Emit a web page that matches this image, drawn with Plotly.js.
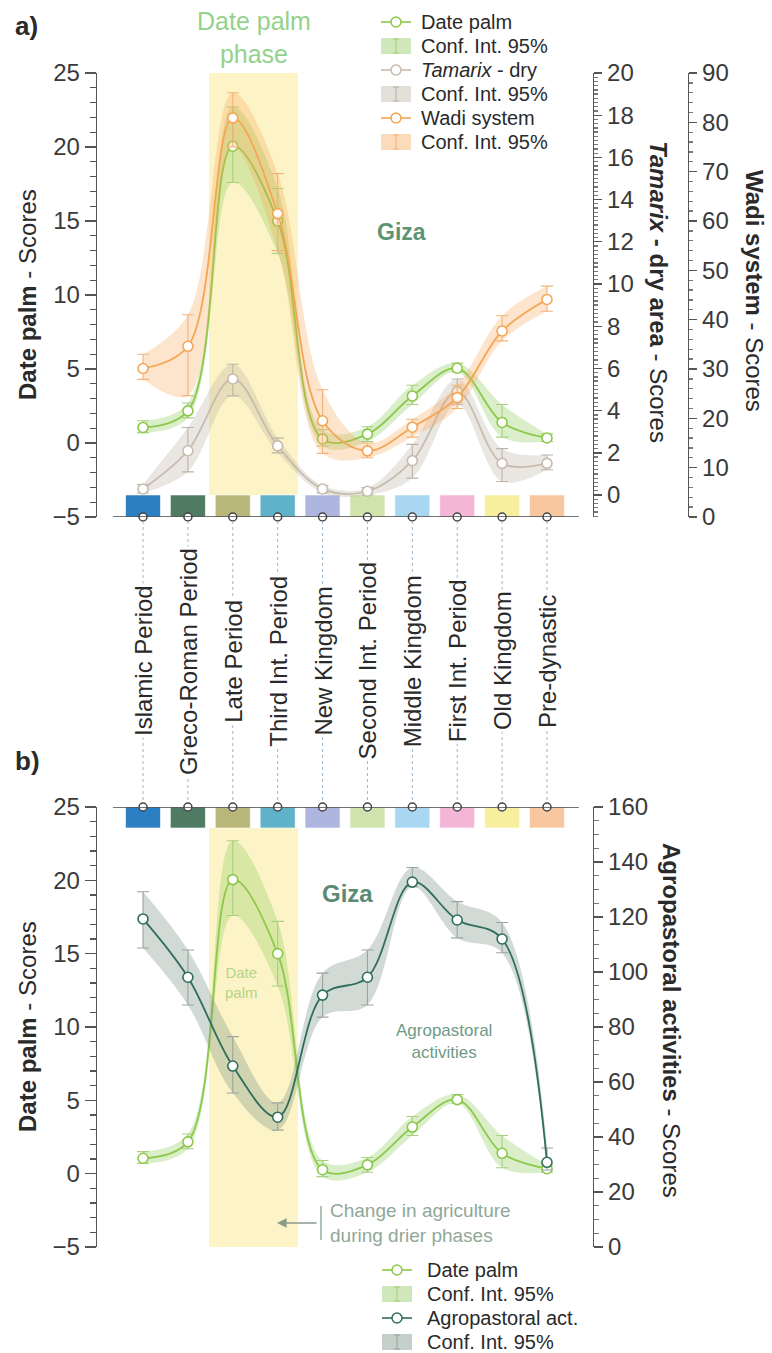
<!DOCTYPE html>
<html><head><meta charset="utf-8">
<script src="https://cdn.plot.ly/plotly-3.0.1.min.js"></script>
<style>html,body{margin:0;padding:0;background:#fff}</style>
</head><body><div id="chart" style="width:772px;height:1353px"></div>
<script>
// ---------- DATA ----------
const periods = ['Islamic Period','Greco-Roman Period','Late Period','Third Int. Period','New Kingdom','Second Int. Period','Middle Kingdom','First Int. Period','Old Kingdom','Pre-dynastic'];
const periodColors = ['#2b7fc2','#4f7b63','#b9b67a','#5fb2c9','#aeb6df','#cfe3ad','#a9d7f2','#f4b6d6','#f8ef9e','#f8c79f'];

const datePalm   = [1.05, 2.17, 20.05, 15.0, 0.27, 0.6, 3.18, 5.05, 1.39, 0.34];
const datePalmHi = [1.5, 2.7, 22.7, 17.2, 0.9, 1.1, 3.9, 5.4, 2.6, 0.6];
const datePalmLo = [0.7, 1.7, 17.6, 12.8, -0.2, 0.1, 2.6, 4.8, 0.4, 0.1];

const tamarix   = [0.29, 2.1, 5.5, 2.33, 0.29, 0.18, 1.63, 4.9, 1.5, 1.5];
const tamarixHi = [0.5, 3.2, 6.2, 2.7, 0.45, 0.35, 2.4, 5.5, 2.2, 1.9];
const tamarixLo = [0.1, 1.1, 4.7, 2.0, 0.1, 0.0, 0.8, 4.3, 0.64, 1.2];

const wadi   = [30.1, 34.6, 80.9, 61.5, 19.5, 13.4, 18.2, 24.2, 37.7, 44.1];
const wadiHi = [33.0, 41.0, 86.0, 69.6, 25.8, 15.0, 19.8, 26.7, 40.8, 46.8];
const wadiLo = [27.9, 24.6, 75.0, 54.0, 12.9, 12.0, 16.2, 22.0, 35.7, 41.7];

const agro   = [119.3, 98.1, 65.8, 47.2, 91.6, 98.1, 132.7, 118.9, 112.0, 30.8];
const agroHi = [129.2, 108.0, 76.5, 52.4, 99.6, 108.0, 138.0, 125.6, 118.0, 36.0];
const agroLo = [108.7, 88.0, 56.0, 42.5, 83.6, 88.0, 131.0, 112.4, 107.0, 28.0];

const legendA = ['Date palm', 'Conf. Int. 95%', '<i>Tamarix</i> - dry', 'Conf. Int. 95%', 'Wadi system', 'Conf. Int. 95%'];
const legendB = ['Date palm', 'Conf. Int. 95%', 'Agropastoral act.', 'Conf. Int. 95%'];

// ---------- HELPERS ----------
const W = 772, H = 1353;
const px = v => v / W;
const py = v => 1 - v / H;
const idx = periods.map((_, i) => i);
const FONT = 'Liberation Sans, Arial, Helvetica, sans-serif';

function series(vals, hi, lo, xa, ya, col, bandCol, errCol) {
  const up = {x: idx, y: hi, xaxis: xa, yaxis: ya, mode: 'lines', line: {shape: 'spline', smoothing: 1, width: 0, color: bandCol},
    hoverinfo: 'skip', showlegend: false};
  const dn = {x: idx, y: lo, xaxis: xa, yaxis: ya, mode: 'lines', fill: 'tonexty', fillcolor: bandCol,
    line: {shape: 'spline', smoothing: 1, width: 0, color: bandCol}, showlegend: false, hoverinfo: 'skip'};
  const ln = {x: idx, y: vals, xaxis: xa, yaxis: ya, mode: 'lines+markers', showlegend: false,
    line: {shape: 'spline', smoothing: 1, width: 1.8, color: col},
    marker: {symbol: 'circle', size: 10, color: '#ffffff', line: {width: 1.6, color: col}},
    error_y: {type: 'data', symmetric: false, array: vals.map((v, i) => hi[i] - v), arrayminus: vals.map((v, i) => v - lo[i]),
      color: errCol, thickness: 1.1, width: 6}};
  return [up, dn, ln];
}

const green = '#8cc84b', greenBand = 'rgba(150,205,100,0.35)', greenErr = '#a6cf80';
const gray = '#c6bbad', grayBand = 'rgba(185,175,160,0.30)', grayErr = '#bdb3a6';
const orange = '#f4a654', orangeBand = 'rgba(247,165,85,0.30)', orangeErr = '#f0b47a';
const agroCol = '#2f6e5a', agroBand = 'rgba(125,150,135,0.35)', agroErr = '#9aa59e';

let traces = [];
traces = traces.concat(series(datePalm, datePalmHi, datePalmLo, 'x', 'y', green, greenBand, greenErr));
traces = traces.concat(series(tamarix, tamarixHi, tamarixLo, 'x', 'y2', gray, grayBand, grayErr));
traces = traces.concat(series(wadi, wadiHi, wadiLo, 'x', 'y3', orange, orangeBand, orangeErr));
traces = traces.concat(series(datePalm, datePalmHi, datePalmLo, 'x2', 'y4', green, greenBand, greenErr));
traces = traces.concat(series(agro, agroHi, agroLo, 'x2', 'y5', agroCol, agroBand, agroErr));

// category markers on the baseline axes
traces.push({x: idx, y: idx.map(() => -5), xaxis: 'x', yaxis: 'y', mode: 'markers', cliponaxis: false, showlegend: false, hoverinfo: 'skip',
  marker: {size: 8, color: '#fff', line: {width: 1.5, color: '#444'}}});
traces.push({x: idx, y: idx.map(() => 25), xaxis: 'x2', yaxis: 'y4', mode: 'markers', cliponaxis: false, showlegend: false, hoverinfo: 'skip',
  marker: {size: 8, color: '#fff', line: {width: 1.5, color: '#444'}}});

// ---------- LAYOUT ----------
const xr = [-1.025, 10.025];
const xdom = [px(97), px(593)];
const tickF = {family: FONT, size: 24, color: '#3a3a3a'};
const axC = '#555';
function yax(extra) {
  return Object.assign({showgrid: false, zeroline: false, showline: true, linecolor: axC, linewidth: 1.3,
    ticks: 'outside', tickcolor: axC, tickwidth: 1.3, tickfont: tickF}, extra);
}

const shapes = [];
const annotations = [];
function note(x, y, text, font, extra) {
  annotations.push(Object.assign({xref: 'paper', yref: 'paper', x: px(x), y: py(y), text: text, showarrow: false,
    xanchor: 'center', yanchor: 'middle', font: font}, extra || {}));
}

// yellow phase rectangles
shapes.push({type: 'rect', xref: 'x', yref: 'y', x0: 1.47, x1: 3.45, y0: -3.51, y1: 25, fillcolor: '#fcf4c6', line: {width: 0}, layer: 'below'});
shapes.push({type: 'rect', xref: 'x2', yref: 'y4', x0: 1.47, x1: 3.45, y0: -5, y1: 23.57, fillcolor: '#fcf4c6', line: {width: 0}, layer: 'below'});

// colored period boxes, dotted guide lines, labels
periods.forEach((p, i) => {
  shapes.push({type: 'rect', xref: 'x', yref: 'y', x0: i - 0.39, x1: i + 0.39, y0: -5, y1: -3.51, fillcolor: periodColors[i], line: {width: 1, color: 'rgba(255,255,255,0.6)'}, layer: 'below'});
  shapes.push({type: 'rect', xref: 'x2', yref: 'y4', x0: i - 0.39, x1: i + 0.39, y0: 23.57, y1: 25, fillcolor: periodColors[i], line: {width: 1, color: 'rgba(255,255,255,0.6)'}, layer: 'below'});
  shapes.push({type: 'line', xref: 'x', yref: 'paper', x0: i, x1: i, y0: py(521), y1: py(803), line: {color: '#9fb6cc', width: 1, dash: 'dot'}});
  annotations.push({xref: 'x', yref: 'paper', x: i, y: py(661), xanchor: 'center', yanchor: 'middle', text: p, textangle: -90, showarrow: false,
    bgcolor: '#ffffff', borderpad: 1, font: {family: FONT, size: 24, color: '#2a2a2a'}});
});

// baseline x-axis lines
shapes.push({type: 'line', xref: 'x', yref: 'y', x0: -0.67, x1: 9.71, y0: -5, y1: -5, line: {color: '#444', width: 1.6}});
shapes.push({type: 'line', xref: 'x2', yref: 'y4', x0: -0.67, x1: 9.71, y0: 25, y1: 25, line: {color: '#444', width: 1.6}});

// axis titles
const tF = s => ({family: FONT, size: s, color: '#2a2a2a'});
note(27, 295, '<b>Date palm</b> - Scores', tF(24), {textangle: -90});
note(659, 292, '<b><i>Tamarix</i> - dry area</b> - Scores', tF(24), {textangle: 90});
note(755, 291, '<b>Wadi system</b> - Scores', tF(24), {textangle: 90});
note(27, 1027, '<b>Date palm</b> - Scores', tF(24), {textangle: -90});
note(672, 1020, '<b>Agropastoral activities</b> - Scores', tF(24), {textangle: 90});

// panel letters and text labels
note(26, 26, '<b>a)</b>', tF(26));
note(28, 761, '<b>b)</b>', tF(26));
note(254, 38, 'Date palm<br>phase', {family: FONT, size: 25, color: '#93d28c'});
note(402, 232, '<b>Giza</b>', {family: FONT, size: 23, color: '#5e9474'});
note(347, 893, '<b>Giza</b>', {family: FONT, size: 24, color: '#5a8a72'});
note(241, 982, 'Date<br>palm', {family: FONT, size: 15, color: '#b3d489'});
note(444, 1041, 'Agropastoral<br>activities', {family: FONT, size: 17, color: '#6f9a86'});
note(328, 1223, 'Change in agriculture<br>during drier phases', {family: FONT, size: 19, color: '#8fa898'}, {xanchor: 'left', align: 'left'});
annotations.push({xref: 'paper', yref: 'paper', x: px(277), y: py(1223), text: '', showarrow: true, ax: 41, ay: 0,
  arrowhead: 2, arrowsize: 1.2, arrowwidth: 1.6, arrowcolor: '#8a9a8c'});
shapes.push({type: 'line', xref: 'paper', yref: 'paper', x0: px(321), x1: px(321), y0: py(1206), y1: py(1240), line: {color: '#8fa898', width: 1.4}});

// manual legends
function legendRows(labels, rows, kinds, x0, textX) {
  labels.forEach((lab, k) => {
    const y = rows[k];
    const kd = kinds[k];
    const xc = x0 + 15;
    if (kd.type === 'line') {
      shapes.push({type: 'line', xref: 'paper', yref: 'paper', x0: px(x0), x1: px(x0 + 30), y0: py(y), y1: py(y), line: {color: kd.col, width: 1.6}});
      shapes.push({type: 'circle', xref: 'paper', yref: 'paper', x0: px(xc - 5), x1: px(xc + 5), y0: py(y + 5), y1: py(y - 5),
        fillcolor: '#ffffff', line: {color: kd.col, width: 1.5}});
    } else {
      shapes.push({type: 'rect', xref: 'paper', yref: 'paper', x0: px(x0), x1: px(x0 + 30), y0: py(y + 8), y1: py(y - 8),
        fillcolor: kd.col, line: {width: 0}});
      shapes.push({type: 'line', xref: 'paper', yref: 'paper', x0: px(xc), x1: px(xc), y0: py(y + 7), y1: py(y - 7), line: {color: kd.err, width: 1.1}});
      shapes.push({type: 'line', xref: 'paper', yref: 'paper', x0: px(xc - 3), x1: px(xc + 3), y0: py(y - 7), y1: py(y - 7), line: {color: kd.err, width: 1.1}});
      shapes.push({type: 'line', xref: 'paper', yref: 'paper', x0: px(xc - 3), x1: px(xc + 3), y0: py(y + 7), y1: py(y + 7), line: {color: kd.err, width: 1.1}});
    }
    note(textX, y, lab, {family: FONT, size: 20, color: '#2a2a2a'}, {xanchor: 'left'});
  });
}
legendRows(legendA, [22, 46, 70, 94, 118, 142],
  [{type: 'line', col: green}, {type: 'band', col: 'rgba(150,205,100,0.45)', err: greenErr},
   {type: 'line', col: gray}, {type: 'band', col: 'rgba(185,175,160,0.40)', err: grayErr},
   {type: 'line', col: orange}, {type: 'band', col: 'rgba(247,165,85,0.40)', err: orangeErr}], 381, 419);
legendRows(legendB, [1270, 1294, 1318, 1342],
  [{type: 'line', col: green}, {type: 'band', col: 'rgba(150,205,100,0.45)', err: greenErr},
   {type: 'line', col: agroCol}, {type: 'band', col: 'rgba(125,150,135,0.45)', err: agroErr}], 382, 425);

const layout = {
  width: W, height: H,
  margin: {l: 0, r: 0, t: 0, b: 0},
  paper_bgcolor: '#ffffff', plot_bgcolor: 'rgba(0,0,0,0)',
  font: {family: FONT},
  showlegend: false,
  xaxis: {domain: xdom, range: xr, anchor: 'y', visible: false, fixedrange: true},
  xaxis2: {domain: xdom, range: xr, anchor: 'y4', visible: false, fixedrange: true},
  yaxis: yax({domain: [py(517), py(73)], range: [-5, 25], dtick: 5, tick0: 0, ticklen: 11, anchor: 'x',
    minor: {dtick: 1, ticklen: 6, tickcolor: axC, ticks: 'outside', showgrid: false}}),
  yaxis2: yax({overlaying: 'y', side: 'right', anchor: 'x', range: [-1.04, 20], dtick: 2, tick0: 0, ticklen: 8,
    minor: {dtick: 0.2, ticklen: 4, tickcolor: '#777', ticks: 'outside', showgrid: false}}),
  yaxis3: yax({overlaying: 'y', side: 'right', anchor: 'free', position: px(688), range: [0, 90], dtick: 10, tick0: 0, ticklen: 8,
    minor: {dtick: 2, ticklen: 4, tickcolor: '#777', ticks: 'outside', showgrid: false}}),
  yaxis4: yax({domain: [py(1247), py(807)], range: [-5, 25], dtick: 5, tick0: 0, ticklen: 11, anchor: 'x2',
    minor: {dtick: 1, ticklen: 6, tickcolor: axC, ticks: 'outside', showgrid: false}}),
  yaxis5: yax({overlaying: 'y4', side: 'right', anchor: 'x2', range: [0, 160], dtick: 20, tick0: 0, ticklen: 9,
    minor: {dtick: 5, ticklen: 5, tickcolor: '#777', ticks: 'outside', showgrid: false}}),
  shapes: shapes,
  annotations: annotations
};

Plotly.newPlot('chart', traces, layout, {staticPlot: true, displayModeBar: false});
</script>
</body></html>
